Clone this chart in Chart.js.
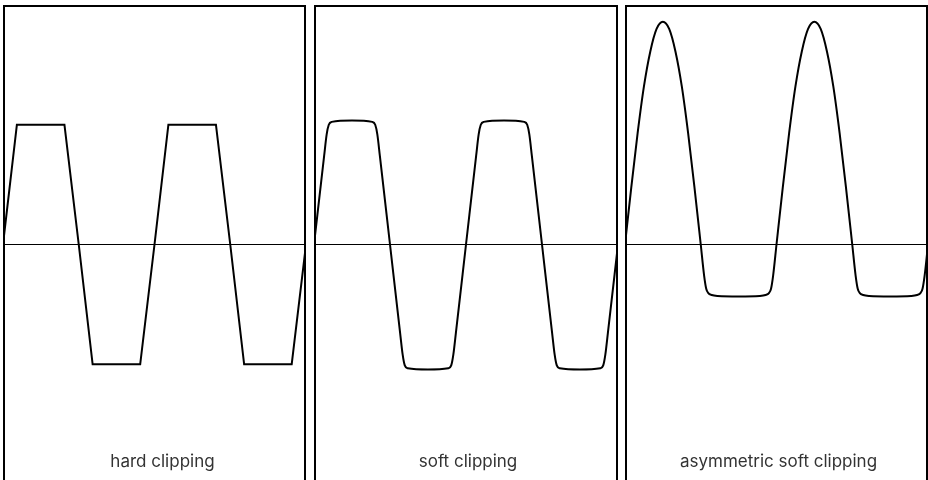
<!DOCTYPE html>
<html>
<head>
<meta charset="utf-8">
<script src="https://cdn.jsdelivr.net/npm/chart.js@4"></script>
<style>
    body { margin: 0; background: #fff; overflow: hidden; width: 928px; height: 480px; }
    canvas { position: absolute; top: 5px; }
</style>
</head>
<body>
<canvas id="hard" width="303" height="479" style="left:3px"></canvas>
<canvas id="soft" width="304" height="479" style="left:314px"></canvas>
<canvas id="asym" width="303" height="479" style="left:625px"></canvas>
<script>
// phase in degrees (two periods per panel), output level (-1..1)
const hardPhase = [0, 33, 146, 180, 213, 326, 360, 393, 506, 540, 573, 686, 720];
const hardLevel = [0, 0.5, 0.5, 0, -0.5, -0.5, 0, 0.5, 0.5, 0, -0.5, -0.5, 0];

const softPhase = [0, 24, 30, 35, 42, 90, 138, 145, 150, 156, 180,
    204, 210, 215, 222, 270, 318, 325, 330, 336, 360,
    384, 390, 395, 402, 450, 498, 505, 510, 516, 540,
    564, 570, 575, 582, 630, 678, 685, 690, 696, 720];
const softLevel = [0, 0.37, 0.46, 0.5, 0.512, 0.518, 0.512, 0.5, 0.46, 0.37, 0,
    -0.37, -0.46, -0.505, -0.517, -0.522, -0.517, -0.505, -0.46, -0.37, 0,
    0.37, 0.46, 0.5, 0.512, 0.518, 0.512, 0.5, 0.46, 0.37, 0,
    -0.37, -0.46, -0.505, -0.517, -0.522, -0.517, -0.505, -0.46, -0.37, 0];

const asymPhase = [0, 15, 30, 45, 60, 75, 90, 105, 120, 135, 150, 165, 180,
    188, 193, 198, 206, 220, 270, 320, 334, 342, 347, 352, 360,
    375, 390, 405, 420, 435, 450, 465, 480, 495, 510, 525, 540,
    548, 553, 558, 566, 580, 630, 680, 694, 702, 707, 712, 720];
const asymLevel = [0, 0.24, 0.465, 0.66, 0.805, 0.9, 0.93, 0.9, 0.805, 0.66, 0.465, 0.24, 0,
    -0.13, -0.185, -0.203, -0.211, -0.215, -0.217, -0.215, -0.211, -0.203, -0.185, -0.13, 0,
    0.24, 0.465, 0.66, 0.805, 0.9, 0.93, 0.9, 0.805, 0.66, 0.465, 0.24, 0,
    -0.13, -0.185, -0.203, -0.211, -0.215, -0.217, -0.215, -0.211, -0.203, -0.185, -0.13, 0];

const panelTitles = ['hard clipping', 'soft clipping', 'asymmetric soft clipping'];

const toPoints = (xs, ys) => xs.map((x, i) => ({ x: x, y: ys[i] }));

// frame + caption drawn on top of each panel
const panelFrame = {
    id: 'panelFrame',
    afterDraw: (chart, args, opts) => {
        const ctx = chart.ctx;
        const w = chart.width, h = chart.height;
        ctx.save();
        ctx.strokeStyle = '#000';
        ctx.lineWidth = 2;
        ctx.strokeRect(1, 1, w - 2, h - 2);
        ctx.fillStyle = '#333';
        ctx.font = '17px Inter, "Noto Sans", sans-serif';
        ctx.textAlign = 'center';
        ctx.textBaseline = 'alphabetic';
        ctx.fillText(opts.title, w / 2 + opts.shift, 462);
        ctx.restore();
    }
};

const makePanel = (id, points, title, shift, smooth) => {
    const ctx = document.getElementById(id).getContext('2d');
    return new Chart(ctx, {
        type: 'line',
        data: {
            datasets: [{
                data: points,
                borderColor: '#000',
                borderWidth: 2,
                pointRadius: 0,
                cubicInterpolationMode: smooth ? 'monotone' : 'default',
                tension: 0
            }, {
                data: [{ x: 0, y: 0 }, { x: 720, y: 0 }],
                borderColor: '#000',
                borderWidth: 1,
                pointRadius: 0
            }]
        },
        options: {
            responsive: false,
            animation: false,
            events: [],
            layout: { padding: 0 },
            plugins: {
                legend: { display: false },
                tooltip: { enabled: false },
                panelFrame: { title: title, shift: shift }
            },
            scales: {
                x: { type: 'linear', min: 0, max: 720, display: false },
                y: { min: -1, max: 1, display: false }
            }
        },
        plugins: [panelFrame]
    });
};

makePanel('hard', toPoints(hardPhase, hardLevel), panelTitles[0], 8, false);
makePanel('soft', toPoints(softPhase, softLevel), panelTitles[1], 2, true);
makePanel('asym', toPoints(asymPhase, asymLevel), panelTitles[2], 2, true);
</script>
</body>
</html>
